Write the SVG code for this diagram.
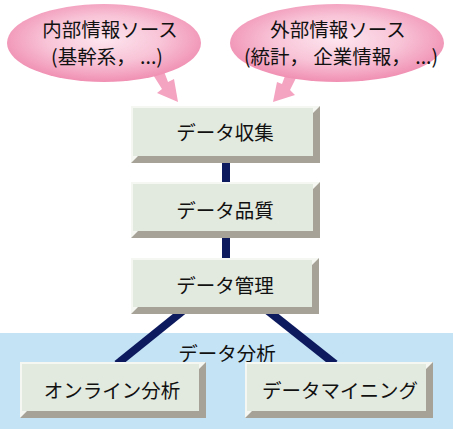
<svg xmlns="http://www.w3.org/2000/svg" width="453" height="429" viewBox="0 0 453 429">
<defs>
<radialGradient id="pink" cx="50%" cy="45%" r="55%">
<stop offset="0" stop-color="#fde6ef"/>
<stop offset="0.55" stop-color="#f8c3d6"/>
<stop offset="1" stop-color="#f08fb2"/>
</radialGradient>
</defs>
<style>
.t{font-family:"Noto Sans CJK JP","Noto Sans CJK SC",sans-serif;font-size:19.5px;fill:#111;text-anchor:middle;dominant-baseline:central;white-space:pre}
.dk{fill:#a6a298}
.hl{fill:#f5f7f2}
.fc{fill:#e2e9df}
.cn{stroke:#0d1a5e;stroke-width:8;fill:none}
.cal{fill:#f4a3c0}
</style>
<rect x="0" y="333" width="453" height="96" fill="#c4e4f6"/>
<text class="t" x="227" y="352">データ分析</text>
<g id="connectors">
<line class="cn" x1="226" y1="160" x2="226" y2="184"/>
<line class="cn" x1="226" y1="236" x2="226" y2="260"/>
<line class="cn" x1="184" y1="310" x2="117" y2="364"/>
<line class="cn" x1="267" y1="310" x2="335" y2="364"/>
</g>
<g id="src-internal">
<path class="cal" d="M150,70 L162,66 L168,82 L174,79 L178,102 L157,93 L162,89 Z"/>
<ellipse cx="104" cy="43" rx="97" ry="39" fill="url(#pink)"/>
<text class="t" x="110" y="28">内部情報ソース</text>
<text class="t" x="107" y="55" xml:space="preserve">(基幹系， ...)</text>
</g>
<g id="src-external">
<path class="cal" d="M300,70 L288,68 L282,84 L277,82 L273,102 L295,95 L290,90 Z"/>
<ellipse cx="337" cy="43" rx="107" ry="39" fill="url(#pink)"/>
<text class="t" x="338" y="28">外部情報ソース</text>
<text class="t" x="341" y="55" xml:space="preserve">(統計， 企業情報， ...)</text>
</g>
<g id="collect">
<rect class="dk" x="131" y="106" width="189" height="57"/>
<polygon class="hl" points="131,106 320,106 313,113 138,156 131,163"/>
<rect class="fc" x="133" y="108" width="180" height="48"/>
<text class="t" x="225" y="131">データ収集</text>
</g>
<g id="quality">
<rect class="dk" x="131" y="182" width="189" height="56"/>
<polygon class="hl" points="131,182 320,182 313,189 138,231 131,238"/>
<rect class="fc" x="133" y="184" width="180" height="47"/>
<text class="t" x="225" y="209">データ品質</text>
</g>
<g id="manage">
<rect class="dk" x="131" y="258" width="188" height="56"/>
<polygon class="hl" points="131,258 319,258 312,265 138,307 131,314"/>
<rect class="fc" x="133" y="260" width="179" height="47"/>
<text class="t" x="225" y="284">データ管理</text>
</g>
<g id="olap">
<rect class="dk" x="20" y="362" width="186" height="56"/>
<polygon class="hl" points="20,362 206,362 199,369 27,411 20,418"/>
<rect class="fc" x="22" y="364" width="177" height="47"/>
<text class="t" x="112" y="389">オンライン分析</text>
</g>
<g id="mining">
<rect class="dk" x="245" y="362" width="188" height="56"/>
<polygon class="hl" points="245,362 433,362 426,369 252,411 245,418"/>
<rect class="fc" x="247" y="364" width="179" height="47"/>
<text class="t" x="340" y="389">データマイニング</text>
</g>
</svg>
